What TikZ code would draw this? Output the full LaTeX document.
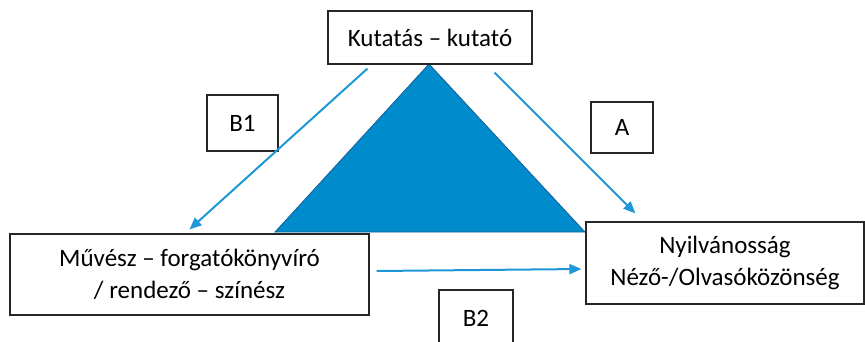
\documentclass[tikz,border=0pt]{standalone}
\usepackage{fontspec}
\setmainfont{Carlito}
\usetikzlibrary{arrows.meta}
\definecolor{triblue}{RGB}{0,140,204}
\definecolor{triedge}{RGB}{20,95,150}
\definecolor{arrblue}{RGB}{30,150,215}
\begin{document}
\begin{tikzpicture}[x=1pt,y=-1pt,
  box node/.style={draw=black!85,line width=1.2pt,fill=white,align=center,inner sep=0pt,
    font=\fontsize{25}{32}\selectfont},
  tag node/.style={box node},
  flow/.style={draw=arrblue,line width=2pt,-{Triangle[length=12pt,width=10pt]}}]
  \useasboundingbox (0,0) rectangle (865,341);

  \fill[triblue,draw=triedge,line width=0.8pt] (429,64) -- (275,232) -- (585,232) -- cycle;

  \node[box node,minimum width=204pt,minimum height=53pt] (kut) at (430,37.5) {Kutatás -- kutató};
  \node[box node,minimum width=359pt,minimum height=81pt] (muv) at (189.5,274.5)
    {Művész -- forgatókönyvíró\\ / rendező -- színész};
  \node[box node,minimum width=278pt,minimum height=82pt] (nyil) at (725,263)
    {Nyilvánosság\\ Néző-/Olvasóközönség};
  \node[tag node,minimum width=71pt,minimum height=56pt] (b1) at (242.5,123) {B1};
  \node[tag node,minimum width=62pt,minimum height=51pt] (a) at (622,127.5) {A};
  \node[tag node,minimum width=74pt,minimum height=56pt] (b2) at (476,318) {B2};

  \path
   ([xshift=40pt,yshift=-4pt]kut.south west) edge[flow] ([yshift=4pt]muv.north)
   ([xshift=-38pt,yshift=-8pt]kut.south east) edge[flow] ([xshift=50pt,yshift=8pt]nyil.north west)
   ([xshift=7pt,yshift=3.5pt]muv.east) edge[flow] ([xshift=-4pt,yshift=-6pt]nyil.west);
\end{tikzpicture}
\end{document}
